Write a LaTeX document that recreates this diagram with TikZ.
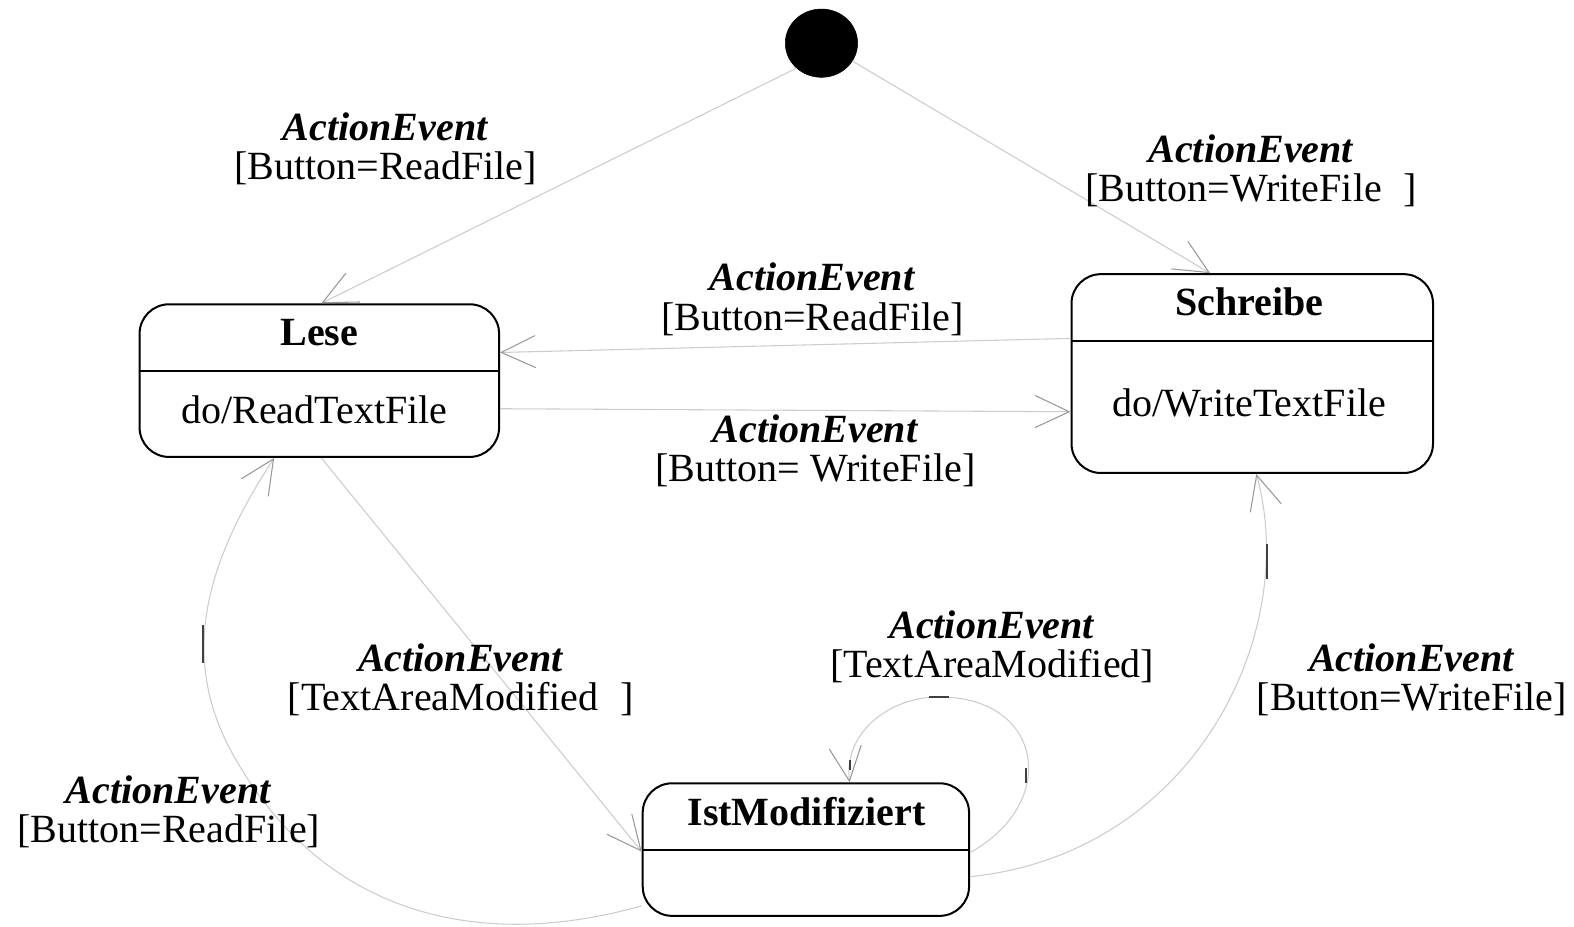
\documentclass[tikz,border=0pt]{standalone}
\usepackage{fontspec}
\setmainfont{Liberation Serif}
\usetikzlibrary{shapes.geometric,arrows.meta}
\begin{document}
\begin{tikzpicture}[x=0.75pt,y=-0.75pt,
  statebox/.style={draw=black, line width=1.5pt, rounded corners=22pt, inner sep=0pt},
  txt/.style={inner sep=0pt, font=\fontsize{29.9pt}{29.3pt}\selectfont},
  lbl/.style={align=center, inner sep=0pt, font=\fontsize{29.9pt}{29.3pt}\selectfont},
  trans/.style={draw=black!20, line width=0.8pt, -{Straight Barb[length=25.5pt,width=24pt,color=black!40]}},
  tickmark/.style={draw=black!75, line width=1.4pt},
  splitline/.style={draw=black, line width=1.5pt}]
\useasboundingbox (0,0) rectangle (1567.4,923.1);

% initial state
\node[ellipse, fill=black, draw=black, minimum width=54pt, minimum height=51pt, inner sep=0pt] (init) at (818,43) {};

% states
\node[statebox, minimum width=268.5pt, minimum height=114pt] (lese) at (318,379) {};
\draw[splitline] (lese.west |- 0,369) -- (lese.east |- 0,369);
\node[txt] (lesetitle) at (318,331) {\textbf{Lese}};
\node[txt] (lesebody) at (313,408) {do/ReadTextFile};

\node[statebox, minimum width=270pt, minimum height=148.5pt] (schreibe) at (1247,372) {};
\draw[splitline] (schreibe.west |- 0,340) -- (schreibe.east |- 0,340);
\node[txt] (schreibetitle) at (1244,301) {\textbf{Schreibe}};
\node[txt] (schreibebody) at (1244,401) {do/WriteTextFile};

\node[statebox, minimum width=243.75pt, minimum height=99pt] (istm) at (802.5,846) {};
\draw[splitline] (istm.west |- 0,846) -- (istm.east |- 0,846);
\node[txt] (istmtitle) at (803,808) {\textbf{IstModifiziert}};

% transitions
\draw[trans] (init.-135) -- (320,0 |- lese.north);
\draw[trans] (init.-30) -- (1205,0 |- schreibe.north);
\draw[trans] (schreibe.west |- 0,337) -- (lese.east |- 0,351);
\draw[trans] (lese.east |- 0,407) -- (schreibe.west |- 0,410);
\draw[trans] (320,0 |- lese.south) -- (istm.west |- 0,848);
\draw[trans] (istm.west |- 0,902) .. controls (476,948) and (325,910) .. (237,760)
   .. controls (174,656) and (206.5,558) .. (273,0 |- lese.south);
\draw[trans] (istm.east |- 0,873) .. controls (1190,850) and (1295,630) .. (1251,0 |- schreibe.south);
\draw[trans] (istm.east |- 0,849) .. controls (1055,800) and (1040,694) .. (935,694)
   .. controls (885,694) and (840,730) .. (846,0 |- istm.north);

% small dark marks on the curves
\draw[tickmark] (202,622) -- (202,660);
\draw[tickmark] (1262,542) -- (1262,577);
\draw[tickmark] (925,694) -- (945,694);
\draw[tickmark] (1022,765) -- (1022,780);
\draw[tickmark] (846,757) -- (846,767);

% labels
\node[lbl] (l1) at (384,148) {\textbf{\textit{ActionEvent}}\\{[}Button=ReadFile]};
\node[lbl] (l2) at (1246,170) {\textbf{\textit{ActionEvent}}\\{[}Button=WriteFile\hspace{0.55em}]};
\node[lbl] (l3) at (809,298) {\textbf{\textit{ActionEvent}}\\{[}Button=ReadFile]};
\node[lbl] (l4) at (812,449) {\textbf{\textit{ActionEvent}}\\{[}Button= WriteFile]};
\node[lbl] (l5) at (459,677) {\textbf{\textit{ActionEvent}}\\{[}TextAreaModified\hspace{0.55em}]};
\node[lbl] (l6) at (168,808) {\textbf{\textit{ActionEvent}}\\{[}Button=ReadFile]};
\node[lbl] (l7) at (1406,677) {\textbf{\textit{ActionEvent}}\\{[}Button=WriteFile]};
\node[lbl] (l8) at (988,644) {\textbf{\textit{ActionEvent}}\\{[}TextAreaModified]};
\end{tikzpicture}
\end{document}
